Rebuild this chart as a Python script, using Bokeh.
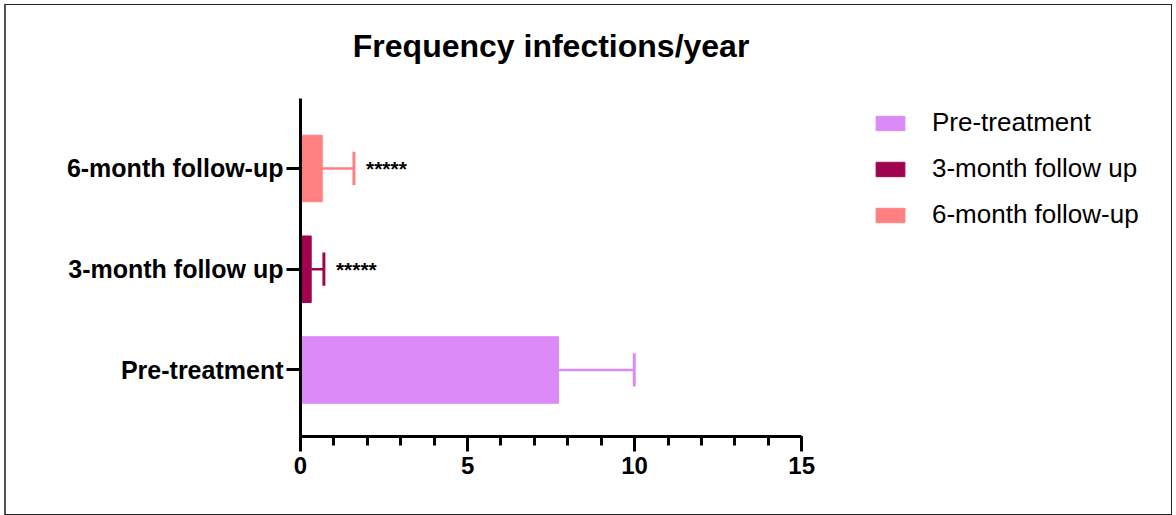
from bokeh.plotting import figure
from bokeh.models import Range1d, FixedTicker, Legend, LegendItem, ColumnDataSource, Label
from bokeh.core.properties import value
from bokeh.embed import file_html
from bokeh.resources import INLINE

# ---- data ----
groups = ["Pre-treatment", "3-month follow up", "6-month follow-up"]
means = [7.72, 0.32, 0.65]
sds = [2.27, 0.38, 0.95]
significance = ["", "*****", "*****"]
colors = ["#DC8AF8", "#A0044F", "#FF8080"]
x_ticks = [0, 5, 10, 15]
title_text = "Frequency infections/year"

FONT = "Liberation Sans"

pos = list(range(len(groups)))
upper = [m + s for m, s in zip(means, sds)]

# layout (pixels)
W, H = 1168, 511
LEFT, BOTTOM = 294, 80          # frame offsets inside canvas
AX_W, AX_H = 500, 336           # drawn axis extents in px
frame_w = W - LEFT - 2
frame_h = H - BOTTOM - 2

x_lo, x_hi = x_ticks[0], x_ticks[-1]
y_lo, y_hi = -0.66, 2.69
x_end = x_lo + (x_hi - x_lo) * frame_w / AX_W
y_end = y_lo + (y_hi - y_lo) * frame_h / AX_H

p = figure(width=W, height=H, output_backend="svg", toolbar_location=None,
           x_range=Range1d(x_lo, x_end), y_range=Range1d(y_lo, y_end),
           min_border_left=LEFT, min_border_right=0, min_border_top=0, min_border_bottom=BOTTOM,
           styles={"margin-left": "4px", "margin-top": "4px",
                   "border": "1px solid #222", "border-left": "2px solid #555",
                   "box-sizing": "border-box"})

p.grid.visible = False
p.outline_line_color = None
p.background_fill_color = "white"
p.border_fill_color = "white"

items = []
for i in pos:
    src = ColumnDataSource(dict(y=[pos[i]], left=[0], right=[means[i]]))
    r = p.hbar(y="y", left="left", right="right", height=0.66, source=src,
               fill_color=colors[i], line_color=colors[i], line_width=1)
    items.append(LegendItem(label=groups[i], renderers=[r]))

# error bars
p.segment(x0=means, y0=pos, x1=upper, y1=pos, line_color=colors, line_width=2.5)
p.segment(x0=upper, y0=[y - 0.165 for y in pos], x1=upper, y1=[y + 0.165 for y in pos],
          line_color=colors, line_width=3)

# significance stars
p.text(x=upper, y=pos, text=significance, x_offset=12, y_offset=0,
       text_font=value(FONT), text_font_style="bold", text_font_size="21px",
       text_baseline="alphabetic", text_align="left", text_color="black")

# title, centred over the x axis
p.add_layout(Label(x=(x_lo + x_hi) / 2, y=y_hi, y_offset=53, text=title_text,
                   text_align="center", text_baseline="alphabetic",
                   text_font=FONT, text_font_size="32px", text_font_style="bold",
                   text_color="black"))

# axes
xa = p.xaxis[0]
xa.ticker = FixedTicker(ticks=x_ticks, minor_ticks=list(range(x_lo, x_hi + 1)))
xa.bounds = (x_lo, x_hi)
for ax in (p.xaxis[0], p.yaxis[0]):
    ax.axis_line_width = 3
    ax.axis_line_color = "black"
    ax.major_tick_line_width = 3
    ax.minor_tick_line_width = 3
    ax.major_tick_line_color = "black"
    ax.minor_tick_line_color = "black"
    ax.major_tick_in = 0
    ax.minor_tick_in = 0
    ax.major_label_text_font = FONT
    ax.major_label_text_font_style = "bold"
    ax.major_label_text_color = "black"
xa.major_tick_out = 15
xa.minor_tick_out = 9
xa.major_label_text_font_size = "24px"
xa.major_label_standoff = 5

ya = p.yaxis[0]
ya.ticker = FixedTicker(ticks=pos)
ya.bounds = (y_lo, y_hi)
ya.major_label_overrides = {i: g for i, g in zip(pos, groups)}
ya.major_tick_out = 14
ya.minor_tick_line_color = None
ya.major_label_text_font_size = "25px"
ya.major_label_standoff = 3

legend = Legend(items=items, location=(572, 206), orientation="vertical",
                glyph_width=36, glyph_height=18, label_standoff=24, spacing=15,
                padding=0, margin=0, border_line_color=None, background_fill_alpha=0,
                label_text_font=FONT, label_text_font_size="26px", label_text_color="black")
p.add_layout(legend, "center")

open("out.html", "w").write(file_html(p, INLINE))
